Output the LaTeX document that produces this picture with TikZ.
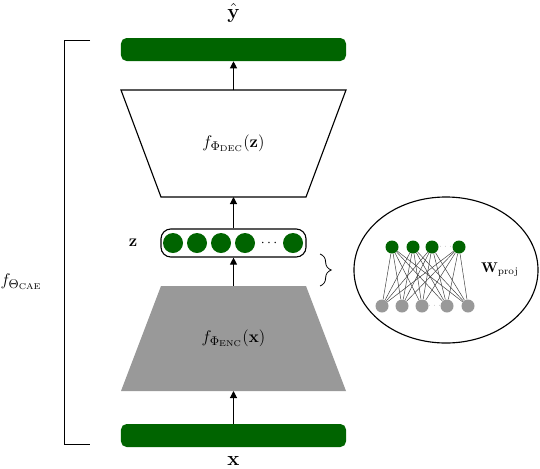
\documentclass[tikz,border=0pt]{standalone}
\usepackage{amsmath}
\usetikzlibrary{shapes.geometric, arrows.meta, decorations.pathreplacing}

\definecolor{layerGreen}{RGB}{0,100,0}
\definecolor{layerGray}{RGB}{153,153,153}

\tikzset{
  bar/.style={rectangle, rounded corners=4pt, fill=layerGreen, inner sep=0,
    minimum width=5.625cm, minimum height=0.575cm},
  latent/.style={rectangle, rounded corners=7pt, draw, thick, fill=white,
    minimum width=3.625cm, minimum height=0.7cm},
  unit/.style={circle, fill=layerGreen, inner sep=0, minimum size=0.5cm},
  neuron/.style={circle, inner sep=0, minimum size=0.325cm},
  weight/.style={black!75, line width=0.35pt},
  flow/.style={-{Triangle[width=5pt,length=5pt]}, thick},
  bigmath/.style={font=\fontsize{13}{16}\selectfont}
}

\begin{document}
\begin{tikzpicture}[x=0.025cm, y=-0.025cm]
    \useasboundingbox (0,0) rectangle (540,468);

    % input and output layers
    \node[bar] (xbar) at (233.5,435.5) {};
    \node[bar] (ybar) at (233.5,49.5) {};
    \node[font=\Large] (xlabel) at (233.5,461) {\(\mathbf{x}\)};
    \node[font=\Large] (ylabel) at (233.5,13) {\(\hat{\mathbf{y}}\)};

    % encoder and decoder
    \fill[layerGray] (161,286) -- (306,286) -- (346,391) -- (121,391) -- cycle;
    \draw[thick, fill=white] (121,90) -- (346,90) -- (306,197) -- (161,197) -- cycle;
    \coordinate (encTop) at (233.5,286);
    \coordinate (encBot) at (233.5,391);
    \coordinate (decTop) at (233.5,90);
    \coordinate (decBot) at (233.5,197);
    \node[bigmath] (enc) at (233.5,338.5) {\(f_{\Phi_{\mathrm{ENC}}}(\mathbf{x})\)};
    \node[bigmath] (dec) at (233.5,143.5) {\(f_{\Phi_{\mathrm{DEC}}}(\mathbf{z})\)};

    % latent code
    \node[latent] (zbox) at (233.5,243) {};
    \foreach \i/\px in {1/173, 2/197, 3/221, 4/245, 5/293}
        \node[unit] (z\i) at (\px,243) {};
    \node (zdots) at (269,243) {\(\cdots\)};
    \node[font=\large] (zlabel) at (133,243) {\(\mathbf{z}\)};

    \draw[flow] (xbar) -- (encBot);
    \draw[flow] (encTop) -- (zbox);
    \draw[flow] (zbox) -- (decBot);
    \draw[flow] (decTop) -- (ybar);

    % brace towards the projection
    \coordinate (braceTop) at (320,254);
    \coordinate (braceBot) at (320,286);
    \draw[semithick, decorate, decoration={brace, amplitude=8pt}] (braceTop) -- (braceBot);

    % projection weights
    \node[ellipse, draw, thick, minimum width=4.6cm, minimum height=3.65cm] (proj) at (446,270) {};
    \foreach \i/\px in {1/392, 2/413, 3/432, 4/459}
        \node[neuron, fill=layerGreen] (t\i) at (\px,247) {};
    \foreach \j/\px in {1/382, 2/402, 3/422, 4/447, 5/468}
        \node[neuron, fill=layerGray] (b\j) at (\px,306) {};
    \foreach \i in {1,...,4}
        \foreach \j in {1,...,5}
            \draw[weight] (t\i) -- (b\j);
    \node[text=gray, font=\tiny] (tdots) at (445.5,247) {\(\cdots\)};
    \node[text=gray, font=\tiny] (bdots) at (434.5,306) {\(\cdots\)};
    \node (wlabel) at (500,270) {\(\mathbf{W}_{\mathrm{proj}}\)};

    % whole autoencoder
    \coordinate (capTop) at (90,40);
    \coordinate (capBot) at (90,444);
    \draw[semithick] (capTop) -- ++(-26,0) |- (capBot);
    \node[anchor=east, bigmath] (caeLabel) at (47,282) {\(f_{\Theta_{\mathrm{CAE}}}\)};
\end{tikzpicture}
\end{document}
